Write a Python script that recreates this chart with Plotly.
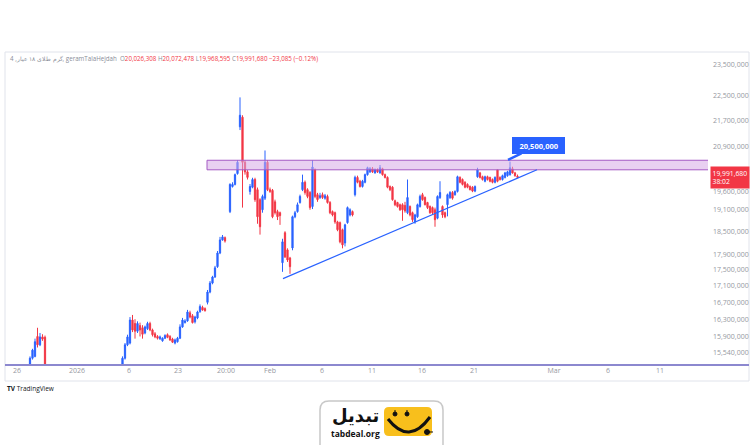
import math
import plotly.graph_objects as go

# ---------------- data (prices in millions of rial) ----------------
# bar positions (bar index on the time axis); bars hidden below the visible range are omitted
bar_index = list(range(10, 18)) + list(range(47, 89)) + list(range(90, 206))

open_ = [
    15.28, 15.41, 15.45, 15.90, 15.71, 15.89, 15.88, 15.15,
    15.28, 15.41, 15.71, 15.75, 16.28, 16.20, 16.02, 16.15, 16.10, 15.98, 16.08, 16.20,
    16.05, 15.96, 15.90, 15.85, 15.80, 15.86, 15.94, 15.90, 15.84, 15.75, 15.78, 15.86,
    16.12, 16.22, 16.26, 16.45, 16.38, 16.24, 16.33, 16.48, 16.58, 16.55, 16.70, 16.95,
    17.17, 17.32, 17.58, 17.93, 18.27, 18.33,
    19.03, 19.73, 19.79, 20.10, 21.50, 21.80, 20.43, 20.15, 19.59, 19.71, 19.93, 19.64,
    19.36, 19.08, 19.40, 20.43, 19.64, 19.62, 19.30, 19.03, 19.00, 17.68, 18.46, 18.01,
    17.80, 18.06, 18.89, 19.03, 19.28, 19.64, 19.85, 19.64, 19.56, 19.17, 20.21, 19.50,
    19.42, 19.50, 19.40, 19.45, 19.28, 19.03, 19.00, 18.75, 18.73, 18.54, 18.19, 18.73,
    18.94, 19.03, 19.50, 19.99, 19.88, 19.73, 19.85, 20.07, 20.15, 20.24, 20.12, 20.21,
    20.12, 20.24, 20.07, 19.99, 19.73, 19.71, 19.33, 19.28, 19.22, 19.22, 19.20, 19.00,
    19.17, 19.00, 18.75, 18.89, 19.17, 19.50, 19.42, 19.28, 19.17, 19.14, 19.08, 18.85,
    19.42, 19.17, 19.00, 19.22, 19.42, 19.56, 19.50, 19.59, 19.99, 19.93, 19.85, 19.79,
    19.73, 19.71, 19.60, 20.01, 20.12, 20.01, 19.88, 20.01, 19.99, 19.93, 19.85, 20.21,
    19.99, 19.93, 19.99, 20.04, 20.07, 20.24, 20.12, 20.026308,
]
high = [
    15.45, 15.62, 15.85, 16.10, 15.98, 15.95, 15.92, 15.20,
    15.45, 15.75, 15.94, 16.35, 16.40, 16.30, 16.25, 16.22, 16.16, 16.15, 16.24, 16.24,
    16.08, 16.00, 15.93, 15.92, 15.88, 15.95, 15.97, 15.93, 15.87, 15.85, 15.89, 16.18,
    16.33, 16.30, 16.52, 16.50, 16.42, 16.38, 16.50, 16.65, 16.62, 16.58, 17.00, 17.22,
    17.35, 17.60, 17.98, 18.35, 18.40, 18.36,
    19.82, 19.85, 20.10, 20.49, 22.43, 21.86, 20.49, 20.20, 19.80, 19.98, 19.98, 19.70,
    19.40, 19.50, 20.78, 20.49, 19.70, 19.66, 19.36, 19.08, 19.03, 18.30, 18.50, 18.05,
    17.83, 18.92, 19.05, 19.28, 19.50, 20.07, 19.90, 19.68, 19.60, 20.49, 20.25, 19.55,
    19.55, 19.56, 19.52, 19.50, 19.32, 19.06, 19.03, 18.78, 18.76, 18.57, 18.70, 19.17,
    19.12, 19.06, 20.04, 20.04, 19.92, 19.92, 20.10, 20.30, 20.29, 20.29, 20.25, 20.25,
    20.35, 20.27, 20.10, 20.02, 19.76, 19.74, 19.36, 19.30, 19.25, 19.26, 19.30, 19.93,
    19.20, 19.03, 18.97, 19.25, 19.50, 19.55, 19.45, 19.30, 19.20, 19.17, 19.14, 19.48,
    19.88, 19.20, 19.03, 19.53, 19.60, 19.60, 19.62, 20.04, 20.02, 19.96, 19.88, 19.82,
    19.76, 19.74, 19.76, 20.27, 20.15, 20.04, 20.04, 20.04, 20.01, 19.96, 20.02, 20.21,
    20.02, 20.07, 20.15, 20.18, 20.45, 20.30, 20.15, 20.072478,
]
low = [
    15.20, 15.38, 15.43, 15.65, 15.68, 15.80, 15.10, 14.90,
    15.22, 15.38, 15.68, 15.72, 16.00, 15.85, 15.98, 15.90, 15.85, 15.95, 16.05, 16.02,
    15.90, 15.86, 15.83, 15.82, 15.78, 15.84, 15.86, 15.80, 15.75, 15.72, 15.76, 15.84,
    16.10, 16.20, 16.24, 16.32, 16.20, 16.20, 16.30, 16.45, 16.50, 16.48, 16.65, 16.92,
    17.14, 17.30, 17.55, 17.90, 18.25, 18.20,
    18.99, 19.70, 19.76, 20.07, 21.40, 19.14, 20.07, 19.93, 19.50, 19.68, 19.30, 18.70,
    18.41, 19.00, 19.35, 19.60, 19.55, 18.85, 18.95, 18.80, 18.67, 17.45, 17.80, 17.70,
    17.40, 18.00, 18.85, 19.00, 19.25, 19.60, 19.50, 19.40, 19.08, 19.10, 19.40, 19.30,
    19.38, 19.38, 19.36, 19.25, 18.96, 18.90, 18.70, 18.50, 18.18, 18.05, 18.10, 18.70,
    18.90, 18.90, 19.45, 19.82, 19.70, 19.70, 19.82, 20.04, 20.12, 20.12, 20.10, 20.12,
    20.10, 20.04, 19.96, 19.68, 19.60, 19.33, 19.18, 19.14, 19.05, 18.78, 19.00, 18.96,
    18.90, 18.75, 18.70, 18.86, 19.14, 19.33, 19.20, 19.10, 18.97, 18.95, 18.62, 18.82,
    19.38, 18.86, 18.85, 18.90, 19.38, 19.36, 19.47, 19.56, 19.82, 19.76, 19.68, 19.68,
    19.62, 19.57, 19.57, 19.98, 19.96, 19.90, 19.85, 19.90, 19.85, 19.82, 19.82, 19.85,
    19.90, 19.90, 19.96, 20.01, 20.04, 20.10, 20.01, 19.968595,
]
close = [
    15.41, 15.59, 15.78, 15.71, 15.89, 15.84, 15.15, 14.95,
    15.41, 15.71, 15.89, 16.28, 16.05, 16.02, 16.20, 16.05, 15.95, 16.12, 16.20, 16.05,
    15.94, 15.89, 15.86, 15.89, 15.86, 15.92, 15.88, 15.82, 15.77, 15.82, 15.86, 16.12,
    16.28, 16.26, 16.47, 16.35, 16.22, 16.35, 16.47, 16.60, 16.52, 16.50, 16.95, 17.17,
    17.32, 17.55, 17.93, 18.27, 18.35, 18.24,
    19.79, 19.79, 20.07, 20.43, 21.86, 20.43, 20.15, 19.99, 19.73, 19.93, 19.36, 18.89,
    18.62, 19.45, 20.43, 19.64, 19.59, 18.89, 19.00, 18.89, 18.92, 18.22, 17.83, 17.75,
    17.58, 18.89, 19.00, 19.22, 19.45, 19.85, 19.56, 19.45, 19.14, 20.29, 19.45, 19.36,
    19.47, 19.42, 19.47, 19.28, 19.00, 18.94, 18.75, 18.54, 18.22, 18.14, 18.67, 19.14,
    19.08, 18.94, 19.99, 19.85, 19.73, 19.88, 20.07, 20.27, 20.24, 20.15, 20.21, 20.15,
    20.27, 20.07, 19.99, 19.71, 19.64, 19.36, 19.22, 19.17, 19.08, 19.08, 19.05, 19.42,
    18.94, 18.81, 18.94, 19.22, 19.45, 19.36, 19.22, 19.14, 19.00, 19.00, 18.81, 19.45,
    19.56, 18.94, 18.89, 19.50, 19.56, 19.40, 19.59, 20.01, 19.85, 19.79, 19.71, 19.71,
    19.64, 19.60, 19.73, 20.21, 19.99, 19.93, 20.01, 19.93, 19.88, 19.85, 19.99, 19.88,
    19.93, 20.04, 20.12, 20.15, 20.27, 20.12, 20.04, 19.991680,
]

# time-axis labels and their bar positions
x_tick_pos = [4.8, 28.8, 49.6, 69.2, 88.4, 106.0, 126.8, 146.8, 166.8, 187.6, 219.6, 241.2, 262.0]
x_tick_text = ["26", "2026", "6", "23", "20:00", "Feb", "6", "11", "16", "21", "Mar", "6", "11"]

# price-axis labels (millions)
y_tick_vals = [23.5, 22.5, 21.7, 20.9, 20.1, 19.6, 19.1, 18.5, 17.9, 17.5, 17.1, 16.7, 16.3, 15.9, 15.54]
y_tick_text = ["23,500,000", "22,500,000", "21,700,000", "20,900,000", "20,100,000", "19,600,000",
               "19,100,000", "18,500,000", "17,900,000", "17,500,000", "17,100,000", "16,700,000",
               "16,300,000", "15,900,000", "15,540,000"]

# drawings
zone_low, zone_high = 20.21, 20.49            # resistance box
zone_start_bar = 80.8
trend_start = (111.2, 17.28)                  # rising support line
trend_end = (212.8, 20.21)
callout_bar, callout_price = 201.2, 20.5      # "20,500,000" label
last_price = 19.991680

# ---------------- figure ----------------
W, H = 755, 445
ML, MR, MT, MB = 5, 47, 53, 80
PW, PH = W - ML - MR, H - MT - MB


def px(x, y):
    """pixel -> paper coordinates (for decorations outside the plot)"""
    return (x - ML) / PW, (H - MB - y) / PH


BLUE = "#2962ff"
RED = "#f23645"
GREY = "#9598a1"

fig = go.Figure()
fig.add_trace(go.Candlestick(
    x=bar_index, open=open_, high=high, low=low, close=close,
    increasing=dict(line=dict(color=BLUE, width=1), fillcolor=BLUE),
    decreasing=dict(line=dict(color=RED, width=1), fillcolor=RED),
    whiskerwidth=0, showlegend=False, hoverinfo="skip",
))

shapes = []
# chart frame
fx0, fy0 = px(5, 381)
fx1, fy1 = px(749, 52)
shapes.append(dict(type="rect", xref="paper", yref="paper", x0=fx0, y0=fy0, x1=fx1, y1=fy1,
                   line=dict(color="#e0e3eb", width=1), fillcolor="rgba(0,0,0,0)", layer="below"))
# resistance zone
shapes.append(dict(type="rect", xref="x", yref="y", x0=zone_start_bar, x1=300,
                   y0=zone_low, y1=zone_high,
                   line=dict(color="#a45bc4", width=1), fillcolor="rgba(214,170,230,0.55)", layer="above"))
# trend line
shapes.append(dict(type="line", xref="x", yref="y", x0=trend_start[0], y0=trend_start[1],
                   x1=trend_end[0], y1=trend_end[1], line=dict(color=BLUE, width=1.2)))
# bottom horizontal line
bx0, by = px(5, 365)
bx1, _ = px(749, 365)
shapes.append(dict(type="line", xref="paper", yref="paper", x0=bx0, y0=by, x1=bx1, y1=by,
                   line=dict(color="#8c88cf", width=2)))


def rrect(x0, y0, x1, y1, r):
    def P(x, y):
        a, b = px(x, y)
        return f"{a:.5f},{b:.5f}"
    return (f"M {P(x0 + r, y0)} L {P(x1 - r, y0)} Q {P(x1, y0)} {P(x1, y0 + r)} "
            f"L {P(x1, y1 - r)} Q {P(x1, y1)} {P(x1 - r, y1)} L {P(x0 + r, y1)} "
            f"Q {P(x0, y1)} {P(x0, y1 - r)} L {P(x0, y0 + r)} Q {P(x0, y0)} {P(x0 + r, y0)} Z")


def ppath(*cmds):
    out = []
    for c in cmds:
        if isinstance(c, str):
            out.append(c)
        else:
            a, b = px(*c)
            out.append(f"{a:.5f},{b:.5f}")
    return " ".join(out)


# tabdeal logo box
shapes.append(dict(type="path", xref="paper", yref="paper", path=rrect(320, 401, 443, 470, 9),
                   line=dict(color="#c8c8c8", width=1.5), fillcolor="white"))
shapes.append(dict(type="path", xref="paper", yref="paper", path=rrect(384, 407, 432, 436, 5),
                   line=dict(width=0), fillcolor="#f8bf1c"))
shapes.append(dict(type="path", xref="paper", yref="paper",
                   path=ppath("M", (388, 419), "Q", (409, 446), (430, 417)),
                   line=dict(color="#111", width=3)))
for ex in (395, 407):
    shapes.append(dict(type="path", xref="paper", yref="paper",
                       path=ppath("M", (ex, 410), "L", (ex, 414)), line=dict(color="#111", width=1)))
    c0 = px(ex - 2, 416)
    c1 = px(ex + 2, 412)
    shapes.append(dict(type="circle", xref="paper", yref="paper", x0=c0[0], y0=c0[1], x1=c1[0], y1=c1[1],
                       line=dict(color="#111", width=1), fillcolor="#111"))
c0 = px(424.5, 434.5)
c1 = px(429.5, 429.5)
shapes.append(dict(type="circle", xref="paper", yref="paper", x0=c0[0], y0=c0[1], x1=c1[0], y1=c1[1],
                   line=dict(color="#111", width=1), fillcolor="#111"))
shapes.append(dict(type="path", xref="paper", yref="paper",
                   path=ppath("M", (429, 432), "L", (433, 432)), line=dict(color="#111", width=1)))

annotations = []
# legend line
lx, ly = px(8, 58)
grey = "#8a8e99"
ohlc = (f'<span style="color:{grey}">گرم طلای ۱۸ عیار, 4, geramTalaHejdah</span>  '
        f'<span style="color:{grey}">O</span><span style="color:{RED}">20,026,308</span> '
        f'<span style="color:{grey}">H</span><span style="color:{RED}">20,072,478</span> '
        f'<span style="color:{grey}">L</span><span style="color:{RED}">19,968,595</span> '
        f'<span style="color:{grey}">C</span><span style="color:{RED}">19,991,680</span> '
        f'<span style="color:{RED}">−23,085 (−0.12%)</span>')
annotations.append(dict(xref="paper", yref="paper", x=lx, y=ly, text=ohlc, showarrow=False,
                        xanchor="left", yanchor="middle", font=dict(size=6.2, family="Open Sans")))
# callout
annotations.append(dict(xref="x", yref="y", x=callout_bar, y=math.log10(callout_price),
                        text="&nbsp;&nbsp;<b>20,500,000</b>&nbsp;&nbsp;", showarrow=True, arrowhead=0,
                        arrowwidth=2.5, arrowcolor=BLUE, ax=30, ay=-14.5, bgcolor=BLUE, bordercolor=BLUE,
                        borderpad=2.5, font=dict(color="white", size=7.5, family="Open Sans"),
                        standoff=0))
# last price label
plx, _ = px(710, 0)
annotations.append(dict(xref="paper", yref="y", x=plx, y=math.log10(last_price),
                        text="19,991,680<br>38:02", showarrow=False, xanchor="left", yanchor="middle",
                        align="left", bgcolor=RED, borderpad=1.5,
                        font=dict(color="white", size=6.8, family="Open Sans")))
# TradingView mark
tx, ty = px(5, 388)
annotations.append(dict(xref="paper", yref="paper", x=tx, y=ty,
                        text="<b>TV</b> TradingView", showarrow=False, xanchor="left", yanchor="middle",
                        font=dict(color="#131722", size=6.5, family="Open Sans")))
# tabdeal texts
a, b = px(355, 415)
annotations.append(dict(xref="paper", yref="paper", x=a, y=b, text="<b>تبدیل</b>", showarrow=False,
                        xanchor="center", yanchor="middle",
                        font=dict(color="#111", size=18, family="DejaVu Sans")))
a, b = px(355, 433)
annotations.append(dict(xref="paper", yref="paper", x=a, y=b, text="<b>tabdeal.org</b>", showarrow=False,
                        xanchor="center", yanchor="middle",
                        font=dict(color="#111", size=8.5, family="Open Sans")))

fig.update_layout(
    width=W, height=H,
    margin=dict(l=ML, r=MR, t=MT, b=MB, pad=0),
    paper_bgcolor="white", plot_bgcolor="white",
    shapes=shapes, annotations=annotations,
    xaxis=dict(range=[0, PW / 2.5], tickmode="array", tickvals=x_tick_pos, ticktext=x_tick_text,
               showgrid=False, zeroline=False, showline=False, ticks="",
               tickfont=dict(size=7, color=GREY, family="Open Sans"),
               rangeslider=dict(visible=False), fixedrange=True),
    yaxis=dict(type="log", side="right", range=[math.log10(15.26), math.log10(23.91)],
               tickmode="array", tickvals=y_tick_vals, ticktext=y_tick_text,
               showgrid=False, zeroline=False, showline=False, ticks="",
               tickfont=dict(size=7, color=GREY, family="Open Sans"), ticklabelstandoff=4,
               fixedrange=True),
)

fig.write_html("out.html", config={"displayModeBar": False},
               post_script="document.body.style.margin='0px';")
